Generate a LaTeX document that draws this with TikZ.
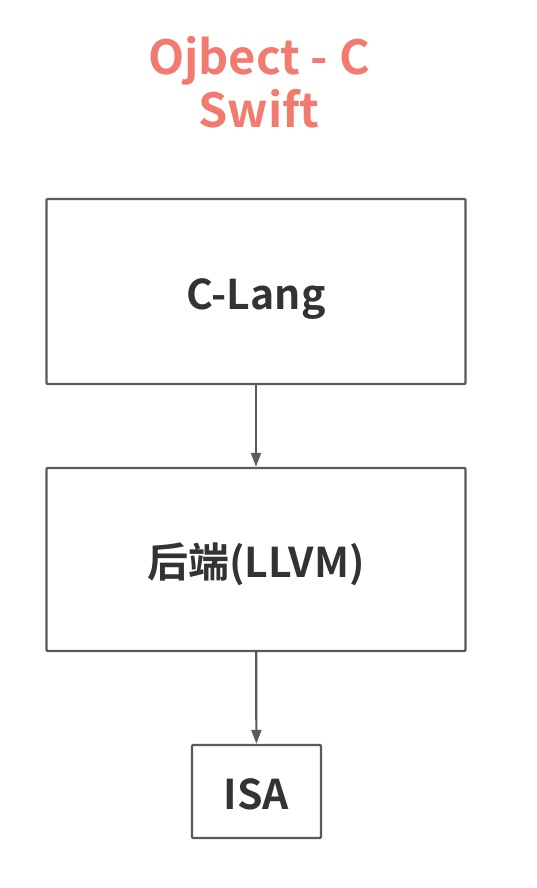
\documentclass[tikz,border=0pt]{standalone}
\usepackage{fontspec}
\setmainfont{Noto Sans CJK SC}[BoldFont={* Bold}]
\usetikzlibrary{arrows.meta}
\definecolor{titlered}{HTML}{F27A6E}
\definecolor{boxgray}{HTML}{5A5A5A}
\definecolor{txtdark}{HTML}{333333}
\begin{document}
\begin{tikzpicture}[x=1pt,y=-1pt,
  blk/.style={draw=boxgray,line width=2.4pt,rounded corners=1pt,fill=white,inner sep=0pt,
    text height=40pt,text depth=4pt,
    font=\fontsize{41}{48}\selectfont\bfseries,text=txtdark},
  conn/.style={draw=boxgray,line width=2.2pt,-{Triangle[length=14pt,width=10pt]}}]
\useasboundingbox (0,0) rectangle (536,888);
\node[font=\fontsize{47}{53}\selectfont\bfseries,text=titlered,align=center] (title) at (259,82) {Ojbect - C\\Swift};
\node[blk,minimum width=419pt,minimum height=185pt] (b1) at (256,291.5) {C-Lang};
\node[blk,minimum width=419pt,minimum height=183pt] (b2) at (256,559.5) {后端(LLVM)};
\node[blk,minimum width=129pt,minimum height=93pt] (b3) at (256.5,791.5) {ISA};
\draw[conn] (b1) -- (b2);
\draw[conn] (b2) -- (b3);
\end{tikzpicture}
\end{document}
